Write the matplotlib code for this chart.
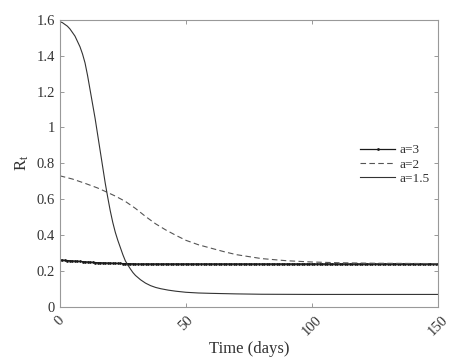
import matplotlib
matplotlib.use("Agg")
import matplotlib.pyplot as plt
import numpy as np

# R_t for three values of a

# a = 3 : one value per day (dense dotted markers)
t_a3 = np.arange(0, 151)
r_a3 = [0.260, 0.259, 0.258, 0.257, 0.256, 0.255, 0.254, 0.253, 0.252, 0.251,
        0.250, 0.249, 0.248, 0.247, 0.246, 0.245, 0.245, 0.244, 0.244, 0.243,
        0.243, 0.242, 0.242, 0.241, 0.241, 0.240, 0.240, 0.240, 0.239, 0.239] + [0.238] * 121

# a = 2 (dashed)
t_a2 = [0, 5, 10, 15, 18, 22, 26, 30, 34, 38, 42, 46, 50, 55, 60, 65, 70, 80, 90, 100, 110, 125, 150]
r_a2 = [0.73, 0.712, 0.688, 0.662, 0.643, 0.617, 0.587, 0.548, 0.503, 0.462, 0.428, 0.398, 0.37,
        0.345, 0.326, 0.307, 0.29, 0.268, 0.256, 0.249, 0.245, 0.242, 0.240]

# a = 1.5 (solid)
t_a15 = [0, 1, 2, 3, 4, 5, 6, 7, 8, 9, 10, 11, 12, 13, 14, 15, 16, 17, 18, 19, 20,
         21, 22, 23, 24, 25, 26, 27, 28, 29, 30, 32, 34, 36, 38, 40, 43, 46, 50, 55,
         60, 70, 80, 100, 150]
r_a15 = [1.59, 1.585, 1.575, 1.565, 1.55, 1.53, 1.51, 1.48, 1.45, 1.41, 1.36, 1.29, 1.21,
         1.13, 1.05, 0.96, 0.87, 0.78, 0.69, 0.61, 0.535, 0.47, 0.415, 0.37, 0.33, 0.29,
         0.255, 0.232, 0.21, 0.19, 0.174, 0.15, 0.131, 0.117, 0.107, 0.10, 0.092, 0.086,
         0.080, 0.076, 0.074, 0.071, 0.069, 0.068, 0.068]

x_ticks = [0, 50, 100, 150]
y_ticks = [0, 0.2, 0.4, 0.6, 0.8, 1, 1.2, 1.4, 1.6]
y_tick_labels = ["0", "0.2", "0.4", "0.6", "0.8", "1", "1.2", "1.4", "1.6"]

plt.rcParams["font.family"] = ["Liberation Serif", "DejaVu Serif"]
plt.rcParams["mathtext.fontset"] = "custom"
plt.rcParams["mathtext.rm"] = "Liberation Serif"
plt.rcParams["mathtext.it"] = "Liberation Serif"

fig = plt.figure(figsize=(4.71, 3.62), dpi=100)
ax = fig.add_axes([0.127, 0.153, 0.803, 0.792])

ax.plot(t_a3, r_a3, color="#1a1a1a", linewidth=0.9, marker="o", markersize=2.0,
        markeredgewidth=0, label="a=3", markevery=1)
ax.plot(t_a2, r_a2, color="#555555", linewidth=0.8, linestyle=(0, (5, 3)), label="a=2")
ax.plot(t_a15, r_a15, color="#333333", linewidth=0.8, label="a=1.5")

ax.set_xlim(0, 150)
ax.set_ylim(0, 1.6)
ax.set_xticks(x_ticks)
ax.set_yticks(y_ticks)
ax.set_yticklabels(y_tick_labels)
for lbl in ax.get_xticklabels():
    lbl.set_rotation(45)
    lbl.set_ha("center")

ax.tick_params(direction="in", top=True, right=True, length=3, width=0.6,
               colors="#888888", labelcolor="#333333", labelsize=10.5)
ax.tick_params(axis="x", pad=5)
for s in ax.spines.values():
    s.set_color("#999999")
    s.set_linewidth(0.8)

ax.set_xlabel("Time (days)", fontsize=12, color="#333333", labelpad=2)
ax.set_ylabel("R$_\\mathrm{t}$", fontsize=12, color="#333333", labelpad=4)

# only one marker shown on the a=3 legend handle
leg = ax.legend(loc="upper left", bbox_to_anchor=(0.781, 0.585), frameon=False,
                fontsize=9.5, handlelength=2.6, handletextpad=0.35,
                labelspacing=0.15, borderaxespad=0)
leg.get_lines()[0].set_markevery([1])
for t in leg.get_texts():
    t.set_color("#333333")

plt.savefig("out.png", dpi=100)
